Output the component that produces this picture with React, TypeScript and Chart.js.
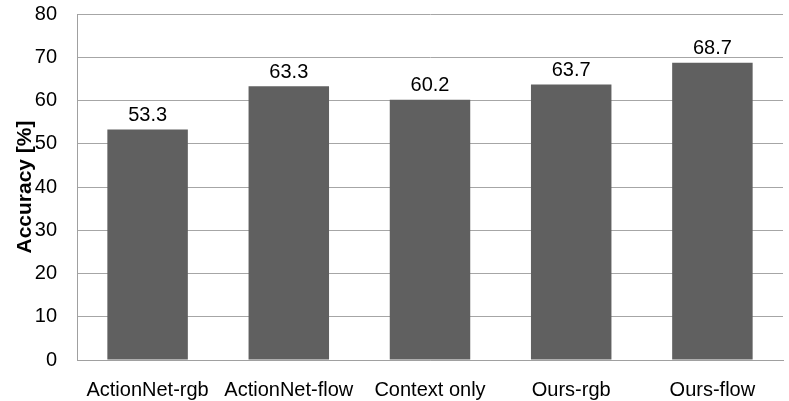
import React, { useEffect, useRef } from "react";
import { Chart, registerables } from "chart.js";

Chart.register(...registerables);

const categories = ["ActionNet-rgb", "ActionNet-flow", "Context only", "Ours-rgb", "Ours-flow"];
const accuracy = [53.3, 63.3, 60.2, 63.7, 68.7];
const yTicks = [0, 10, 20, 30, 40, 50, 60, 70, 80];

const FONT = "'Liberation Sans', Arial, sans-serif";

const valueLabels = {
  id: "valueLabels",
  afterDatasetsDraw(chart: any) {
    const ctx = chart.ctx;
    const meta = chart.getDatasetMeta(0);
    ctx.save();
    ctx.font = `20px ${FONT}`;
    ctx.fillStyle = "#000";
    ctx.textAlign = "center";
    ctx.textBaseline = "bottom";
    meta.data.forEach((bar: any, i: number) => {
      ctx.fillText(accuracy[i].toFixed(1), bar.x, bar.y - 4);
    });
    ctx.restore();
  },
};

export default function App() {
  const ref = useRef<HTMLCanvasElement>(null);
  useEffect(() => {
    const chart = new Chart(ref.current!, {
      type: "bar",
      data: {
        labels: categories,
        datasets: [
          {
            data: accuracy,
            backgroundColor: "#606060",
            borderWidth: 0,
            barPercentage: 0.57,
            categoryPercentage: 1,
          },
        ],
      },
      options: {
        animation: false,
        responsive: false,
        devicePixelRatio: 1,
        layout: { padding: { top: 0, right: 6, left: 0, bottom: 0 } },
        plugins: { legend: { display: false }, tooltip: { enabled: false } },
        scales: {
          x: {
            grid: { display: false },
            border: { display: true, color: "#a0a0a0", width: 1 },
            ticks: { color: "#000", font: { family: FONT, size: 20 }, padding: 10, maxRotation: 0 },
            afterFit: (s: any) => { s.height = 41; },
          },
          y: {
            min: 0,
            max: 80,
            afterBuildTicks: (s: any) => { s.ticks = yTicks.map((v) => ({ value: v })); },
            grid: { color: "#a6a6a6", drawTicks: false, lineWidth: 1 },
            border: { display: true, color: "#a0a0a0", width: 1 },
            ticks: { color: "#000", font: { family: FONT, size: 20 }, padding: 20 },
            title: {
              display: true,
              text: "Accuracy [%]",
              color: "#000",
              font: { family: FONT, size: 21, weight: "bold" },
              padding: { top: 13, bottom: 0 },
            },
            afterFit: (s: any) => { s.width = 77; },
          },
        },
      },
      plugins: [valueLabels],
    });
    return () => chart.destroy();
  }, []);
  return (
    <div style={{ position: "fixed", left: 0, top: 0, width: 789, height: 401, background: "#fff", overflow: "hidden" }}>
      <canvas
        ref={ref}
        width={789}
        height={419}
        style={{ position: "absolute", left: 0, top: -18, width: 789, height: 419 }}
      />
    </div>
  );
}
